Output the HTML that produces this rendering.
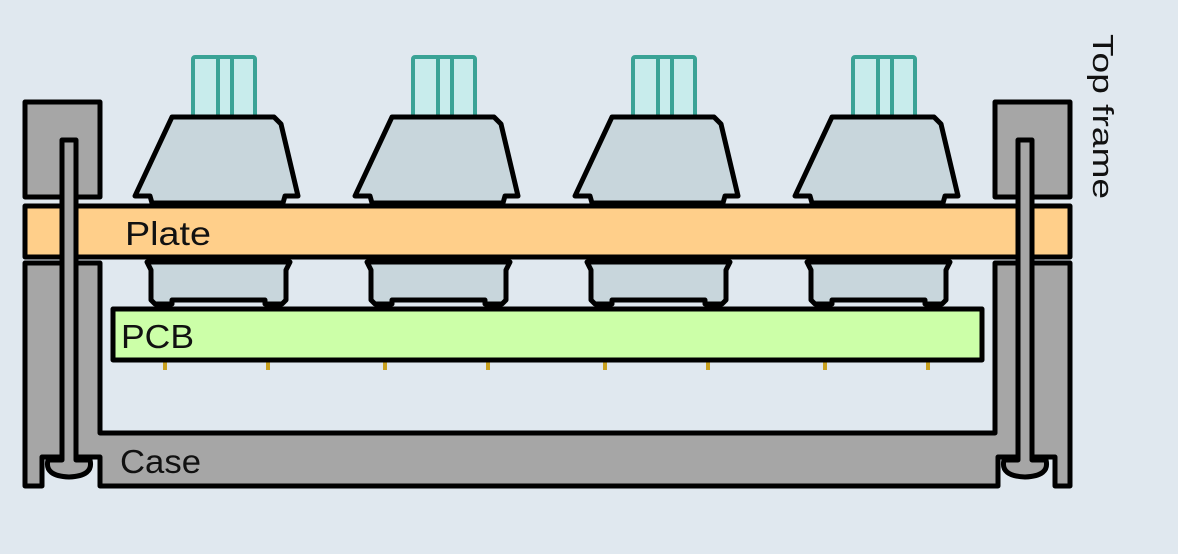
<!DOCTYPE html>
<html><head><meta charset="utf-8"><style>
html,body{margin:0;padding:0;background:#e0e8ef;}
svg{display:block;}
text{font-family:"Liberation Sans",sans-serif;fill:#111;}
</style></head><body>
<svg width="1178" height="554" viewBox="0 0 1178 554" xmlns="http://www.w3.org/2000/svg">
<rect width="1178" height="554" fill="#e0e8ef"/>
<defs>
<g id="sw">
  <rect x="193" y="57" width="62" height="62" fill="#c8ecec" stroke="#3aa396" stroke-width="4" rx="2"/>
  <line x1="218" y1="57" x2="218" y2="119" stroke="#3aa396" stroke-width="4"/>
  <line x1="232" y1="57" x2="232" y2="119" stroke="#3aa396" stroke-width="4"/>
  <path d="M172,117 H274 L281,124 L298,196 H285 L283,203 H152 L150,196 H135 Z" fill="#c8d6dc" stroke="#000" stroke-width="5" stroke-linejoin="round"/>
  <path d="M147,262 H290 L286,270 V300 L282,304 H265 V300 H172 V304 H155 L151,300 V270 Z" fill="#c8d6dc" stroke="#000" stroke-width="5" stroke-linejoin="round"/>
  <rect x="163" y="362" width="4" height="8" fill="#c8a020"/>
  <rect x="266" y="362" width="4" height="8" fill="#c8a020"/>
</g>
</defs>
<rect x="25" y="102" width="75" height="95" fill="#a6a6a6" stroke="#000" stroke-width="5" stroke-linejoin="round"/>
<rect x="995" y="102" width="75" height="95" fill="#a6a6a6" stroke="#000" stroke-width="5" stroke-linejoin="round"/>
<path d="M25,263 H100 V433 H995 V263 H1070 V486 H1055 V457 H998 V486 H100 V457 H42 V486 H25 Z" fill="#a6a6a6" stroke="#000" stroke-width="5" stroke-linejoin="round"/>
<use href="#sw"/>
<use href="#sw" x="220"/>
<use href="#sw" x="440"/>
<use href="#sw" x="660"/>
<rect x="25" y="206" width="1045" height="51" fill="#ffcf8a" stroke="#000" stroke-width="5" stroke-linejoin="round"/>
<rect x="113" y="309" width="869" height="51" fill="#ccffa8" stroke="#000" stroke-width="5" stroke-linejoin="round"/>
<g id="screw">
  <path d="M62,140 H76 V460 H90 Q94,476 69,477 Q44,476 48,460 H62 Z" fill="#a6a6a6" stroke="#000" stroke-width="5" stroke-linejoin="round"/>
</g>
<use href="#screw" x="956"/>
<text x="125" y="245" font-size="33" textLength="86" lengthAdjust="spacingAndGlyphs">Plate</text>
<text x="121" y="348" font-size="33" textLength="73" lengthAdjust="spacingAndGlyphs">PCB</text>
<text x="120" y="473" font-size="33" textLength="81" lengthAdjust="spacingAndGlyphs">Case</text>
<text transform="translate(1093,34) rotate(90)" font-size="29" textLength="165" lengthAdjust="spacingAndGlyphs">Top frame</text>
</svg>
</body></html>
